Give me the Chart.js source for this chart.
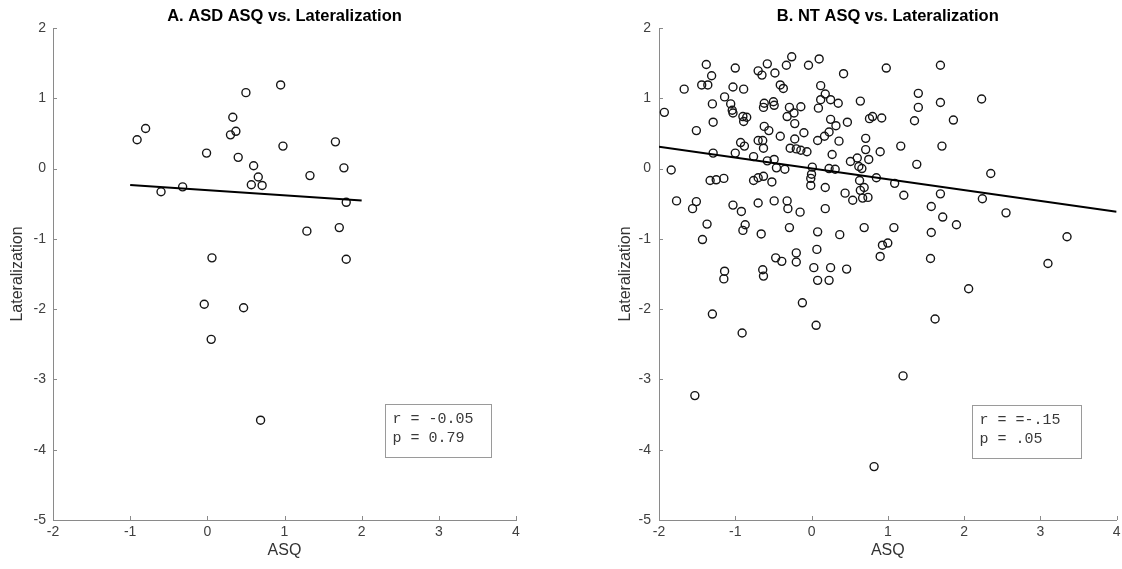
<!DOCTYPE html>
<html>
<head>
<meta charset="utf-8">
<script src="https://cdn.jsdelivr.net/npm/chart.js@4.4.1/dist/chart.umd.min.js"></script>
<style>
html,body{margin:0;padding:0;background:#fff;overflow:hidden}
#wrap{position:relative;width:1122px;height:569px;background:#fff}
canvas{position:absolute;top:0}
#c1{left:0}
#c2{left:561px}
</style>
</head>
<body>
<div id="wrap">
<canvas id="c1" width="561" height="569"></canvas>
<canvas id="c2" width="561" height="569"></canvas>
</div>
<script>
// ---- Panel A: ASD ----
const asdASQ = [-0.91,-0.80,-0.60,-0.32,-0.01,0.06,-0.04,0.05,0.30,0.33,
                0.37,0.40,0.50,0.47,0.60,0.57,0.66,0.71,0.69,0.95,
                0.98,1.29,1.33,1.66,1.71,1.77,1.80,1.80];
const asdLat = [0.41,0.57,-0.33,-0.26,0.22,-1.27,-1.93,-2.43,0.48,0.73,
                0.53,0.16,1.08,-1.98,0.04,-0.23,-0.12,-0.24,-3.58,1.19,
                0.32,-0.89,-0.10,0.38,-0.84,0.01,-0.48,-1.29];
const asdFitX = [-1, 2];
const asdFitY = [-0.235, -0.455];

// ---- Panel B: NT ----
const ntASQ = [-0.26,-1.38,-0.58,-1.00,-0.33,-0.04,-0.70,-0.65,-0.48,-1.31,
               -1.44,-1.36,-1.67,-1.03,-0.89,-0.41,-0.37,-1.14,-1.30,-1.06,
               -0.62,-0.63,-0.50,-0.49,-0.29,-0.14,-1.93,-1.04,-1.03,-0.90,
               -0.85,-0.89,-0.23,-0.32,-1.29,-0.22,-1.51,-0.62,-0.56,-0.10,
               -0.41,-0.22,-0.70,-0.64,-0.93,-0.88,-0.63,-0.28,-0.20,-0.14,
               -0.06,-1.29,-1.00,-0.76,-0.58,-0.49,-0.46,-0.35,-1.84,-1.33,
               -1.25,-1.15,-0.76,-0.70,-0.63,-0.52,-1.77,-1.51,-1.56,-1.03,
               -0.92,-0.70,-0.49,-0.32,-0.31,-0.15,-1.37,-0.87,-0.90,-0.66,
               -0.29,-1.43,-0.47,-0.39,-0.20,-0.20,-1.14,-1.15,-0.64,-0.63,
               -0.12,-1.30,-0.91,-1.53,
               0.10,0.42,0.98,1.69,0.12,0.18,0.12,0.25,0.35,0.09,
               0.64,1.40,1.40,1.69,0.25,0.32,0.47,0.76,0.80,0.92,
               1.35,1.86,0.08,0.17,0.23,0.36,0.71,0.27,0.71,0.90,
               1.17,1.71,0.51,0.60,0.62,0.66,0.75,1.38,0.01,0.00,
               -0.01,0.23,0.31,0.63,0.69,0.85,1.09,-0.01,0.18,0.44,
               0.54,0.67,0.74,0.64,1.21,1.69,1.57,1.72,1.90,0.18,
               0.08,0.37,0.69,1.08,1.57,0.07,0.93,1.00,0.90,1.56,
               0.03,0.25,0.46,0.08,0.23,0.06,1.62,1.20,
               2.23,2.35,2.24,2.55,3.35,3.10,2.06,0.82];
const ntLat = [1.59,1.48,1.49,1.43,1.47,1.47,1.39,1.33,1.36,1.32,
               1.19,1.19,1.13,1.16,1.13,1.19,1.14,1.02,0.92,0.92,
               0.93,0.87,0.95,0.90,0.87,0.88,0.80,0.83,0.79,0.74,
               0.73,0.67,0.79,0.74,0.66,0.64,0.54,0.60,0.54,0.51,
               0.46,0.42,0.40,0.40,0.37,0.32,0.29,0.29,0.28,0.26,
               0.24,0.22,0.22,0.17,0.11,0.13,0.01,-0.01,-0.02,-0.17,
               -0.16,-0.14,-0.17,-0.13,-0.11,-0.19,-0.46,-0.47,-0.57,-0.52,
               -0.61,-0.49,-0.46,-0.46,-0.57,-0.62,-0.79,-0.80,-0.88,-0.93,
               -0.84,-1.01,-1.27,-1.32,-1.20,-1.33,-1.46,-1.57,-1.44,-1.53,
               -1.91,-2.07,-2.34,-3.23,
               1.56,1.35,1.43,1.47,1.18,1.06,0.98,0.98,0.93,0.86,
               0.96,1.07,0.87,0.94,0.70,0.61,0.66,0.71,0.74,0.72,
               0.68,0.69,0.40,0.46,0.52,0.39,0.43,0.20,0.27,0.24,
               0.32,0.32,0.10,0.15,0.03,0.00,0.13,0.06,0.02,-0.08,
               -0.14,0.00,-0.01,-0.17,-0.27,-0.13,-0.21,-0.24,-0.27,-0.35,
               -0.45,-0.42,-0.41,-0.31,-0.38,-0.36,-0.54,-0.69,-0.80,-0.57,
               -0.90,-0.94,-0.84,-0.84,-0.91,-1.15,-1.09,-1.06,-1.25,-1.28,
               -1.41,-1.41,-1.43,-1.59,-1.59,-2.23,-2.14,-2.95,
               0.99,-0.07,-0.43,-0.63,-0.97,-1.35,-1.71,-4.24];
const ntFitX = [-2, 4];
const ntFitY = [0.31, -0.615];

// ---- Text / axes ----
const panelTitles = ['A. ASD ASQ vs. Lateralization', 'B. NT ASQ vs. Lateralization'];
const statsA = ['r = -0.05', 'p = 0.79'];
const statsB = ['r = =-.15', 'p = .05'];
const xLabel = 'ASQ';
const yLabel = 'Lateralization';
const xMin = -2, xMax = 4, yMin = -5, yMax = 2;

const AXIS = '#8a8a8a';
const TICKTXT = '#404040';
const SANS = '"Liberation Sans", Arial, Helvetica, sans-serif';

const inwardTicks = {
  id: 'inwardTicks',
  afterDraw(chart) {
    const {ctx, chartArea: a, scales: {x, y}} = chart;
    ctx.save();
    ctx.strokeStyle = AXIS;
    ctx.lineWidth = 1;
    ctx.beginPath();
    x.ticks.forEach(t => {
      const px = Math.round(x.getPixelForValue(t.value)) + 0.5;
      ctx.moveTo(px, a.bottom); ctx.lineTo(px, a.bottom - 4);
    });
    y.ticks.forEach(t => {
      const py = Math.round(y.getPixelForValue(t.value)) + 0.5;
      ctx.moveTo(a.left, py); ctx.lineTo(a.left + 4, py);
    });
    ctx.stroke();
    ctx.restore();
  }
};

const statBox = {
  id: 'statBox',
  afterDatasetsDraw(chart, args, opts) {
    const {ctx, scales: {x, y}} = chart;
    const l = Math.round(x.getPixelForValue(opts.x0)) + 0.5;
    const r = Math.round(x.getPixelForValue(opts.x1)) + 0.5;
    const t = Math.round(y.getPixelForValue(opts.y0)) + 0.5;
    const b = Math.round(y.getPixelForValue(opts.y1)) + 0.5;
    ctx.save();
    ctx.fillStyle = '#fff';
    ctx.fillRect(l, t, r - l, b - t);
    ctx.strokeStyle = '#9a9a9a';
    ctx.lineWidth = 1;
    ctx.strokeRect(l, t, r - l, b - t);
    ctx.fillStyle = '#3a3a3a';
    ctx.font = '15px "Liberation Mono", "Courier New", monospace';
    ctx.textBaseline = 'middle';
    ctx.textAlign = 'left';
    opts.lines.forEach((s, i) => ctx.fillText(s, l + 7, t + 15 + i * 19));
    ctx.restore();
  }
};

function makeChart(id, xs, ys, fx, fy, title, stats, cfg) {
  const pts = xs.map((v, i) => ({x: v, y: ys[i]}));
  const fit = fx.map((v, i) => ({x: v, y: fy[i]}));
  return new Chart(document.getElementById(id), {
    type: 'scatter',
    data: {
      datasets: [
        {data: fit, showLine: true, borderColor: '#000', borderWidth: 2, pointRadius: 0, pointHoverRadius: 0, fill: false},
        {data: pts, pointRadius: 4, pointHoverRadius: 4, pointBorderWidth: 1.4,
         pointBorderColor: '#151515', pointBackgroundColor: 'rgba(0,0,0,0)', showLine: false}
      ]
    },
    options: {
      responsive: false,
      animation: false,
      events: [],
      layout: {padding: {left: 0, right: cfg.padRight, top: 0, bottom: 0}},
      plugins: {
        legend: {display: false},
        tooltip: {enabled: false},
        title: {display: true, text: title, fullSize: false, color: '#000',
                font: {family: SANS, size: 16.5, weight: 'bold'},
                padding: {top: 6.5, bottom: 1.7}},
        statBox: {x0: cfg.box[0], x1: cfg.box[1], y0: cfg.box[2], y1: cfg.box[3], lines: stats}
      },
      scales: {
        x: {
          type: 'linear', min: xMin, max: xMax,
          ticks: {stepSize: 1, padding: 3.6, color: TICKTXT, font: {family: SANS, size: 14}},
          grid: {drawOnChartArea: false, drawTicks: false, color: AXIS},
          border: {display: true, color: AXIS, width: 1},
          title: {display: true, text: xLabel, color: '#333', font: {family: SANS, size: 16}, padding: {top: 0, bottom: 8.5}},
          afterFit: s => { s.height = 49; s.paddingLeft = 0; s.paddingRight = 0; }
        },
        y: {
          type: 'linear', min: yMin, max: yMax,
          ticks: {stepSize: 1, padding: cfg.yTickPad, color: TICKTXT, font: {family: SANS, size: 14}},
          grid: {drawOnChartArea: false, drawTicks: false, color: AXIS},
          border: {display: true, color: AXIS, width: 1},
          title: {display: true, text: yLabel, color: '#333', font: {family: SANS, size: 16}, padding: {top: cfg.yTitlePad, bottom: 0}},
          afterFit: s => { s.width = cfg.yWidth; s.paddingTop = 0; s.paddingBottom = 0; }
        }
      }
    },
    plugins: [inwardTicks, statBox]
  });
}

makeChart('c1', asdASQ, asdLat, asdFitX, asdFitY, panelTitles[0], statsA,
  {padRight: 45, yWidth: 53, yTickPad: 7, yTitlePad: 8.4, box: [2.30, 3.68, -3.35, -4.10]});
makeChart('c2', ntASQ, ntLat, ntFitX, ntFitY, panelTitles[1], statsB,
  {padRight: 3, yWidth: 98, yTickPad: 8, yTitlePad: 55.4, box: [2.11, 3.53, -3.36, -4.12]});
</script>
</body>
</html>
